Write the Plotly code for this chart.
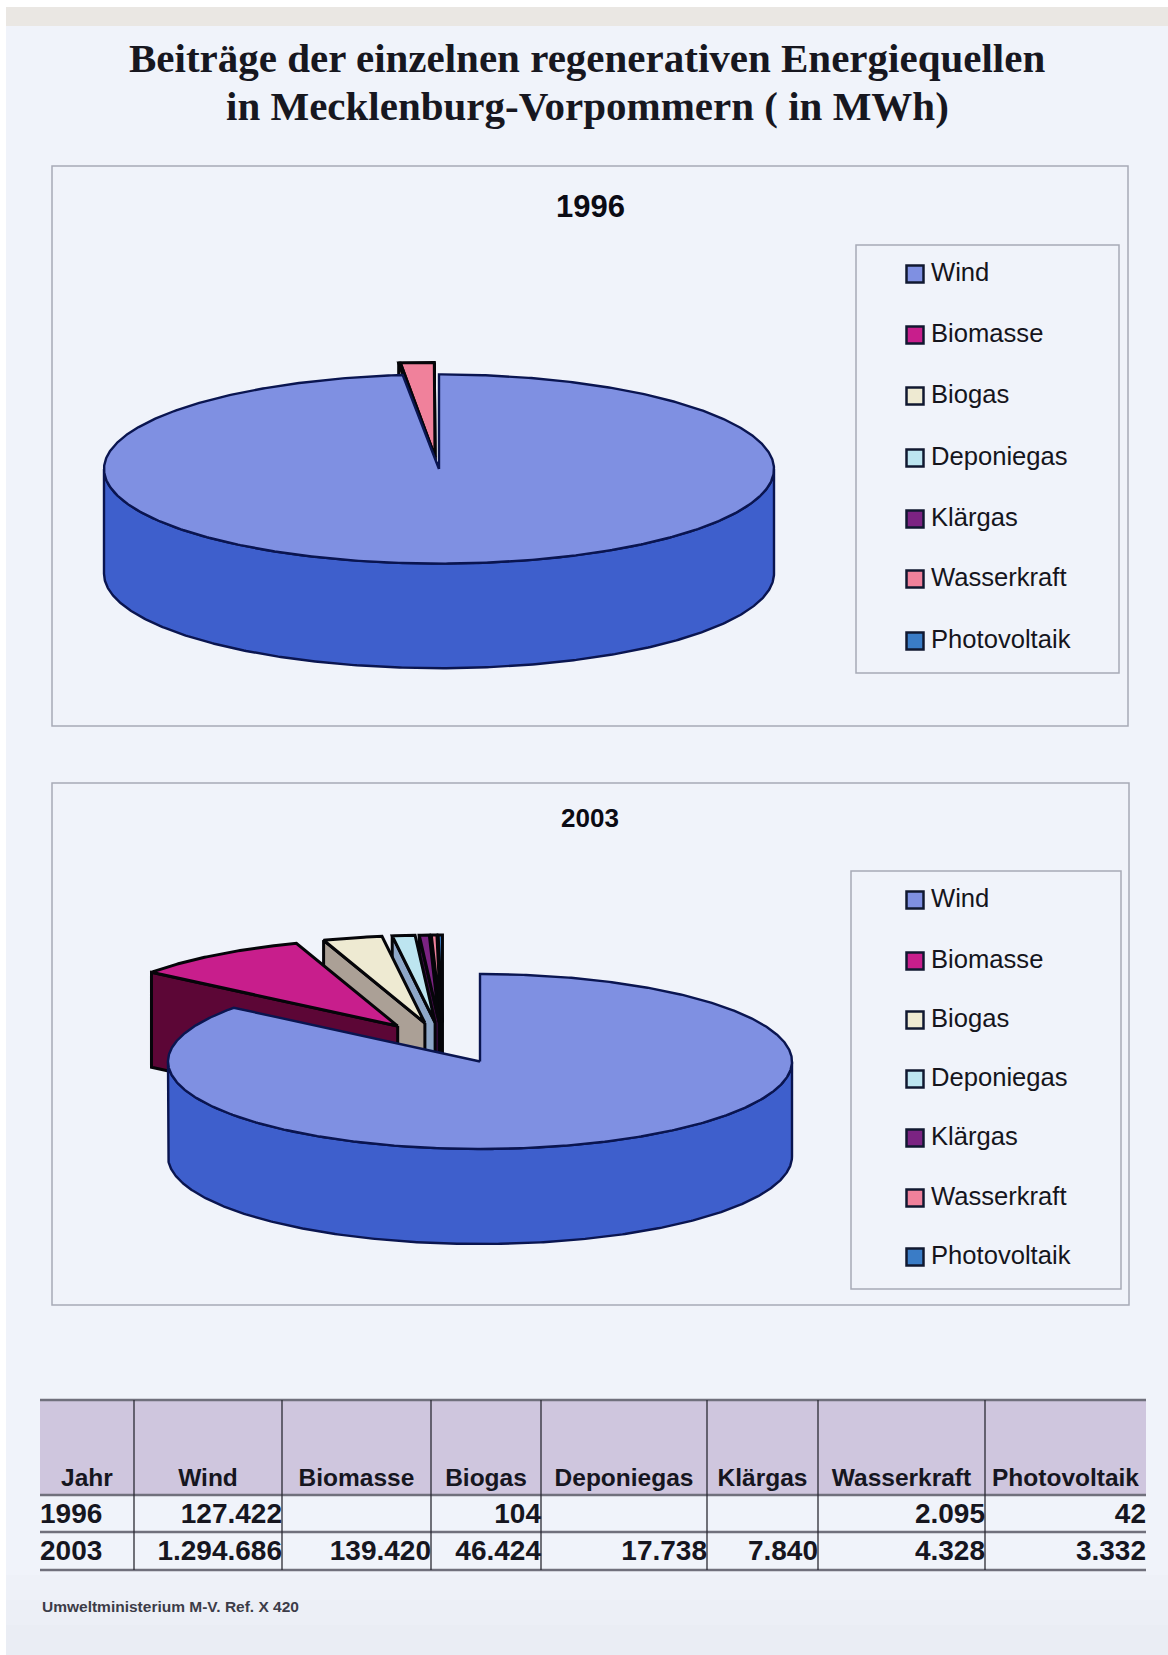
import numpy as np
import plotly.graph_objects as go

# Annual output per energy source, in MWh (None: no figure published)
sources = ["Wind", "Biomasse", "Biogas", "Deponiegas", "Klärgas", "Wasserkraft", "Photovoltaik"]
values_1996 = [127422, None, 104, None, None, 2095, 42]
values_2003 = [1294686, 139420, 46424, 17738, 7840, 4328, 3332]
table_years = ["1996", "2003"]

# Slice colours: top surface and side wall
top_colors = ["#7F90E2", "#C81E8C", "#EEEAD2", "#BDE5F0", "#7B2382", "#F0819B", "#3A7CC6"]
wall_colors = ["#3E5FCC", "#5C0636", "#ABA096", "#8EA7C8", "#3A0A40", "#70303C", "#10243C"]

PAPER = "#F0F3FA"
FRAME = "#A6ABB6"
INK = "#0B0B14"

# Page-pixel geometry of the two panels
pies = [
    dict(year="1996", values=values_1996, cx=439, cy=469, rx=335, ry=94.6, depth=104.6,
         shift=(-4, -6), radial=(0, 6), frame=(52, 166, 1128, 726), box=(856, 245, 1119, 673),
         title_y=206, title_size=31, rows=[274, 335, 396, 458, 519, 579, 641]),
    dict(year="2003", values=values_2003, cx=480, cy=1061.5, rx=312, ry=87.5, depth=95,
         shift=(-37, -20), radial=(78, 19), frame=(52, 783, 1129, 1305), box=(851, 871, 1121, 1289),
         title_y=818, title_size=26, rows=[900, 961, 1020, 1079, 1138, 1198, 1257]),
]

# Table grid in page pixels
col_edges = [40, 134, 282, 431, 541, 707, 818, 985, 1146]
row_edges = [1400, 1495, 1532, 1570]
header_y = 1480
row_y = [1516, 1553]


def de_number(v):
    return "" if v is None else f"{v:,}".replace(",", ".")


def arc(p, a, b, ox=0, oy=0):
    t = np.radians(np.linspace(a, b, max(2, int(abs(b - a) * 2) + 2)))
    return p["cx"] + ox + p["rx"] * np.sin(t), p["cy"] + oy - p["ry"] * np.cos(t)


def polygon(fig, xs, ys, fill, line, width, name):
    fig.add_trace(go.Scatter(
        x=list(xs) + [xs[0]], y=list(ys) + [ys[0]], mode="lines", fill="toself",
        fillcolor=fill, line=dict(color=line, width=width), name=name,
        hoverinfo="name", showlegend=False,
    ))


def add_slice(fig, p, idx, a, b, exploded):
    ox, oy = 0.0, 0.0
    if exploded:
        mid = np.radians((a + b) / 2)
        ox = p["shift"][0] + p["radial"][0] * np.sin(mid)
        oy = p["shift"][1] - p["radial"][1] * np.cos(mid)
    d = p["depth"]
    edge, width = ("#0A1550", 2.4) if idx == 0 else ("#050509", 3)
    cx, cy = p["cx"] + ox, p["cy"] + oy
    name = f"{sources[idx]} {p['year']}"

    # Radial cut faces that turn towards the viewer
    for ang, visible in ((a, np.sin(np.radians(a)) < 0), (b, np.sin(np.radians(b)) > 0)):
        if visible:
            ex, ey = arc(p, ang, ang, ox, oy)
            polygon(fig, [cx, ex[0], ex[0], cx], [cy, ey[0], ey[0] + d, cy + d],
                    wall_colors[idx], edge, width, name)

    # Outer wall: only the front half of the rim can be seen
    lo, hi = max(a, 90), min(b, 270)
    if hi > lo:
        wx, wy = arc(p, lo, hi, ox, oy)
        polygon(fig, np.r_[wx, wx[::-1]], np.r_[wy, wy[::-1] + d], wall_colors[idx], edge, width, name)

    # Top surface
    tx, ty = arc(p, a, b, ox, oy)
    polygon(fig, np.r_[cx, tx], np.r_[cy, ty], top_colors[idx], edge, width, name)


fig = go.Figure()

for p in pies:
    shares = np.array([v or 0 for v in p["values"]], dtype=float)
    stops = np.r_[0, np.cumsum(shares) / shares.sum() * 360]
    # Slices further round the circle sit behind the earlier ones; the big one goes last
    for i in range(len(sources) - 1, -1, -1):
        if shares[i] > 0:
            add_slice(fig, p, i, stops[i], stops[i + 1], exploded=i > 0)

    # Colour key
    fig.add_trace(go.Scatter(
        x=[915] * len(sources), y=p["rows"], mode="markers",
        marker=dict(symbol="square", size=17, color=top_colors, line=dict(color="#101830", width=2.5)),
        text=sources, hoverinfo="text", showlegend=False,
    ))
    fig.add_trace(go.Scatter(
        x=[931] * len(sources), y=[r + 1 for r in p["rows"]], mode="text",
        text=sources, textposition="middle right",
        textfont=dict(family="Liberation Sans", size=25.6, color="#15151C"),
        hoverinfo="text", showlegend=False,
    ))

# Table text: header row, year column, then the values per source
header = ["Jahr"] + sources
centres = [(l + r) / 2 for l, r in zip(col_edges[:-1], col_edges[1:])]
fig.add_trace(go.Scatter(
    x=centres, y=[header_y] * len(header), mode="text",
    text=[f"<b>{h}</b>" for h in header], textposition="middle center",
    textfont=dict(family="Liberation Sans", size=24.5, color="#16161F"),
    hoverinfo="skip", showlegend=False,
))
fig.add_trace(go.Scatter(
    x=[col_edges[0]] * 2, y=row_y, mode="text",
    text=[f"<b>{y}</b>" for y in table_years], textposition="middle right",
    textfont=dict(family="Liberation Sans", size=28, color="#16161F"),
    hoverinfo="skip", showlegend=False,
))
for row, series in zip(row_y, (values_1996, values_2003)):
    fig.add_trace(go.Scatter(
        x=col_edges[2:], y=[row] * len(series), mode="text",
        text=[f"<b>{de_number(v)}</b>" for v in series], textposition="middle left",
        textfont=dict(family="Liberation Sans", size=28, color="#16161F"),
        hoverinfo="skip", showlegend=False,
    ))

shapes = [
    dict(type="rect", x0=0, x1=1168, y0=0, y1=1655, fillcolor="#FFFFFF", line_width=0, layer="below"),
    dict(type="rect", x0=6, x1=1168, y0=7, y1=1655, fillcolor=PAPER, line_width=0, layer="below"),
]
# The sheet greys off gently towards the foot of the page
for top, shade in ((1575, "#EEF1F8"), (1600, "#ECEFF6"), (1625, "#EAEDF4")):
    shapes.append(dict(type="rect", x0=6, x1=1168, y0=top, y1=1655, fillcolor=shade,
                       line_width=0, layer="below"))
shapes += [
    dict(type="rect", x0=6, x1=1168, y0=7, y1=26, fillcolor="#EAE7E3", line_width=0, layer="below"),
    dict(type="rect", x0=col_edges[0], x1=col_edges[-1], y0=row_edges[0], y1=row_edges[1],
         fillcolor="#CFC6DE", line_width=0, layer="below"),
]
for p in pies:
    for x0, y0, x1, y1 in (p["frame"], p["box"]):
        shapes.append(dict(type="rect", x0=x0, y0=y0, x1=x1, y1=y1,
                           line=dict(color=FRAME, width=1.5), layer="below"))
for y in row_edges:
    shapes.append(dict(type="line", x0=col_edges[0], x1=col_edges[-1], y0=y, y1=y,
                       line=dict(color="#70707C", width=2.5), layer="below"))
for x in col_edges[1:-1]:
    shapes.append(dict(type="line", x0=x, x1=x, y0=row_edges[0], y1=row_edges[-1],
                       line=dict(color="#2A2A34", width=1.3), layer="below"))

annotations = [
    dict(x=587, y=58, text="<b>Beiträge der einzelnen regenerativen Energiequellen</b>",
         font=dict(family="Liberation Serif", size=41, color="#17171F")),
    dict(x=587, y=106, text="<b>in Mecklenburg-Vorpommern ( in MWh)</b>",
         font=dict(family="Liberation Serif", size=41, color="#17171F")),
    dict(x=40, y=1606, text="<b>Umweltministerium M-V. Ref. X 420</b>", xanchor="left",
         font=dict(family="Liberation Sans", size=15.5, color="#3C3C48")),
]
for p in pies:
    annotations.append(dict(x=590, y=p["title_y"], text=f"<b>{p['year']}</b>",
                            font=dict(family="Liberation Sans", size=p["title_size"], color=INK)))

fig.update_layout(
    width=1168, height=1655, margin=dict(l=0, r=0, t=0, b=0),
    paper_bgcolor=PAPER, plot_bgcolor=PAPER, showlegend=False,
    shapes=shapes,
    annotations=[dict(a, xref="x", yref="y", showarrow=False) for a in annotations],
    xaxis=dict(range=[0, 1168], visible=False, domain=[0, 1], fixedrange=True),
    yaxis=dict(range=[1655, 0], visible=False, domain=[0, 1], fixedrange=True),
)

fig.write_html("out.html")
